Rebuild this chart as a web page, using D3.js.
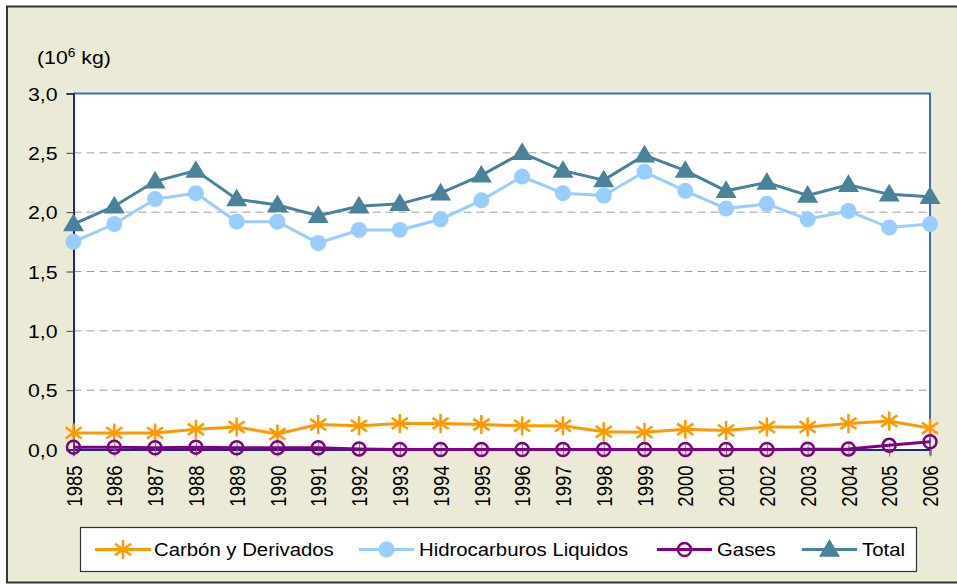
<!DOCTYPE html>
<html>
<head>
<meta charset="utf-8">
<style>
body { margin: 0; background: #fff; }
text { font-family: "Liberation Sans", Arial, sans-serif; fill: #000; }
</style>
<script src="https://d3js.org/d3.v7.min.js"></script>
</head>
<body>
<script>
const width = 957;
const height = 585;

const years = d3.range(1985, 2007);
const carbon = [0.14, 0.14, 0.14, 0.17, 0.19, 0.13, 0.21, 0.20, 0.22, 0.22, 0.21,
                0.20, 0.20, 0.15, 0.145, 0.17, 0.16, 0.19, 0.19, 0.22, 0.24, 0.18];
const hidro = [1.75, 1.90, 2.11, 2.16, 1.92, 1.92, 1.74, 1.85, 1.85, 1.94, 2.10,
               2.30, 2.16, 2.14, 2.34, 2.18, 2.03, 2.07, 1.94, 2.01, 1.87, 1.90];
const gases = [0.02, 0.02, 0.015, 0.02, 0.015, 0.015, 0.015, 0.005, 0.0, 0.0, 0.0,
               0.0, 0.0, 0.0, 0.0, 0.0, 0.0, 0.0, 0.002, 0.005, 0.035, 0.065];
const total = [1.90, 2.05, 2.26, 2.35, 2.11, 2.06, 1.97, 2.05, 2.07, 2.16, 2.31,
               2.50, 2.35, 2.27, 2.48, 2.35, 2.18, 2.25, 2.14, 2.23, 2.15, 2.13];
const yTicks = [0, 0.5, 1.0, 1.5, 2.0, 2.5, 3.0];

const series = [
  { name: "Carbón y Derivados", values: carbon, color: "#FF9900", marker: "star" },
  { name: "Hidrocarburos Liquidos", values: hidro, color: "#99CCFF", marker: "dot" },
  { name: "Gases", values: gases, color: "#800080", marker: "ring" },
  { name: "Total", values: total, color: "#4A8299", marker: "tri" }
];

const plotL = 73.5, plotR = 930, plotT = 93.5, plotB = 449.5;
const fontSize = 18.5;

const x = d3.scaleLinear().domain([1985, 2006]).range([plotL, plotR]);
const y = d3.scaleLinear().domain([0, 3]).range([plotB, plotT]);
const fmt = d3.format(".1f");

const svg = d3.select("body").append("svg")
  .attr("width", width)
  .attr("height", height)
  .style("display", "block");

// background + outer frame
svg.append("rect")
  .attr("x", 0).attr("y", 0).attr("width", width).attr("height", height)
  .attr("fill", "#fff");
svg.append("rect")
  .attr("x", 7).attr("y", 6.5).attr("width", width + 10).attr("height", 576)
  .attr("fill", "#EAEAD6")
  .attr("stroke", "#333").attr("stroke-width", 2);

// plot area
svg.append("rect")
  .attr("x", plotL).attr("y", plotT)
  .attr("width", plotR - plotL).attr("height", plotB - plotT)
  .attr("fill", "#fff");

// grid
svg.append("g")
  .selectAll("line")
  .data(yTicks.filter(d => d > 0 && d < 3))
  .join("line")
  .attr("x1", plotL).attr("x2", plotR)
  .attr("y1", d => y(d)).attr("y2", d => y(d))
  .attr("stroke", "#A0A0A0")
  .attr("stroke-dasharray", "8,5");

// plot border top and right
svg.append("path")
  .attr("d", `M${plotL},${plotT}H${plotR}V${plotB}`)
  .attr("fill", "none")
  .attr("stroke", "#3A6AD0")
  .attr("stroke-width", 2);

// y axis
const yAxis = svg.append("g")
  .attr("transform", `translate(${plotL},0)`)
  .call(d3.axisLeft(y).tickValues(yTicks).tickSize(7)
    .tickFormat(d => fmt(d).replace(".", ",")));
yAxis.select(".domain").attr("stroke", "#1A2A80").attr("stroke-width", 2);
yAxis.selectAll(".tick line").attr("stroke", "#444");
yAxis.selectAll(".tick text")
  .attr("font-size", fontSize)
  .style("font-family", "Liberation Sans, Arial, sans-serif")
  .attr("x", 0)
  .attr("dy", "0.36em")
  .attr("transform", "translate(-16,0) scale(1.15,1)");

// x axis
const xAxis = svg.append("g")
  .attr("transform", `translate(0,${plotB})`)
  .call(d3.axisBottom(x).tickValues(years).tickSize(6).tickFormat(d3.format("d")));
xAxis.select(".domain").attr("stroke", "#1A2A80").attr("stroke-width", 2);
xAxis.selectAll(".tick line")
  .attr("y1", -7).attr("y2", 7)
  .attr("stroke", "#777");
xAxis.selectAll(".tick text")
  .attr("font-size", fontSize)
  .style("font-family", "Liberation Sans, Arial, sans-serif")
  .attr("text-anchor", "end")
  .attr("dy", "0.36em")
  .attr("transform", "translate(0,16) scale(1.15,1) rotate(-90)")
  .attr("x", 0).attr("y", 0);

// unit label
const unit = svg.append("text")
  .attr("transform", "translate(37,64) scale(1.15,1)")
  .attr("font-size", fontSize);
unit.append("tspan").text("(10");
unit.append("tspan").attr("dy", -7).attr("font-size", 12).text("6");
unit.append("tspan").attr("dy", 7).text(" kg)");

// markers
function drawMarker(g, type, color, cx, cy) {
  if (type === "star") {
    const r = 9.5;
    const p = `M${cx},${cy - r}V${cy + r}` +
      `M${cx - r * 0.85},${cy - r * 0.6}L${cx + r * 0.85},${cy + r * 0.6}` +
      `M${cx - r * 0.85},${cy + r * 0.6}L${cx + r * 0.85},${cy - r * 0.6}`;
    g.append("path").attr("d", p).attr("stroke", color).attr("stroke-width", 2.5).attr("fill", "none");
  } else if (type === "dot") {
    g.append("circle").attr("cx", cx).attr("cy", cy).attr("r", 8).attr("fill", color);
  } else if (type === "ring") {
    g.append("circle").attr("cx", cx).attr("cy", cy).attr("r", 6.5)
      .attr("fill", "none").attr("stroke", color).attr("stroke-width", 2.5);
  } else if (type === "tri") {
    const s = 9;
    g.append("path")
      .attr("d", `M${cx},${cy - s - 1.5}L${cx + s + 1.5},${cy + s * 0.8}L${cx - s - 1.5},${cy + s * 0.8}Z`)
      .attr("fill", color);
  }
}

const line = d3.line().x((d, i) => x(years[i])).y(d => y(d));

series.forEach(s => {
  const g = svg.append("g");
  g.append("path")
    .datum(s.values)
    .attr("d", line)
    .attr("fill", "none")
    .attr("stroke", s.color)
    .attr("stroke-width", 3);
  s.values.forEach((v, i) => drawMarker(g, s.marker, s.color, x(years[i]), y(v)));
});

// legend
const legend = svg.append("g");
legend.append("rect")
  .attr("x", 80.5).attr("y", 527.5).attr("width", 836).attr("height", 44)
  .attr("fill", "#fff").attr("stroke", "#333").attr("stroke-width", 1.2);

const legendPos = [
  { x1: 95, x2: 151, tx: 154 },
  { x1: 359, x2: 414, tx: 419 },
  { x1: 657, x2: 712, tx: 717 },
  { x1: 802, x2: 857, tx: 862 }
];
const ly = 549.5;
series.forEach((s, i) => {
  const p = legendPos[i];
  const g = legend.append("g");
  g.append("line")
    .attr("x1", p.x1).attr("x2", p.x2).attr("y1", ly).attr("y2", ly)
    .attr("stroke", s.color).attr("stroke-width", 3);
  drawMarker(g, s.marker, s.color, (p.x1 + p.x2) / 2, ly);
  g.append("text")
    .attr("transform", `translate(${p.tx},${ly}) scale(1.1,1)`)
    .attr("dy", "0.36em")
    .attr("font-size", fontSize)
    .text(s.name);
});
</script>
</body>
</html>
